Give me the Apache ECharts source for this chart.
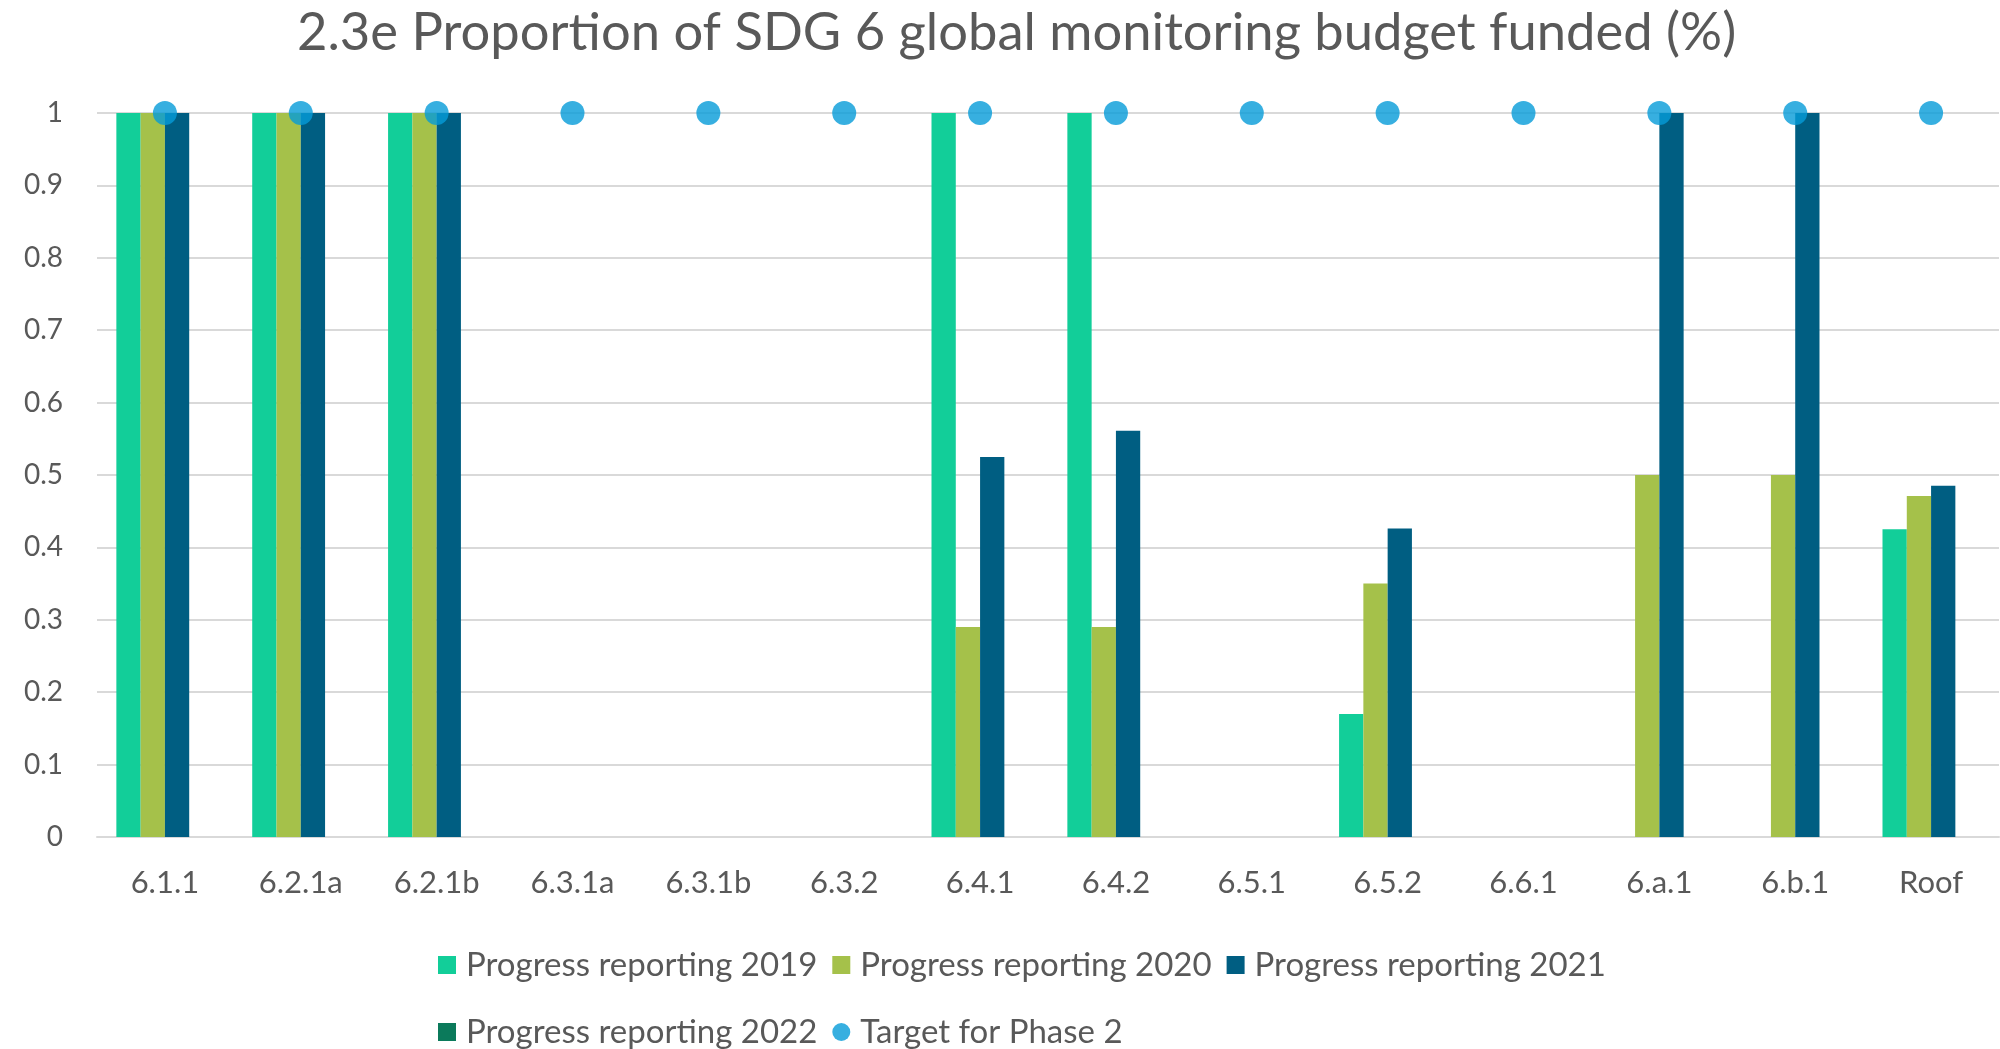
<!DOCTYPE html>
<html>
<head>
<meta charset="utf-8">
<script src="https://cdn.jsdelivr.net/npm/echarts@6/dist/echarts.min.js"></script>
<style>
html,body{margin:0;padding:0;background:#fff;}
#chart{width:2000px;height:1049px;}
</style>
</head>
<body>
<div id="chart"></div>
<script>
var categories = ['6.1.1','6.2.1a','6.2.1b','6.3.1a','6.3.1b','6.3.2','6.4.1','6.4.2','6.5.1','6.5.2','6.6.1','6.a.1','6.b.1','Roof'];
var progress2019 = [1, 1, 1, null, null, null, 1, 1, null, 0.17, null, null, null, 0.425];
var progress2020 = [1, 1, 1, null, null, null, 0.29, 0.29, null, 0.35, null, 0.5, 0.5, 0.471];
var progress2021 = [1, 1, 1, null, null, null, 0.525, 0.561, null, 0.426, null, 1, 1, 0.485];
var progress2022 = [null, null, null, null, null, null, null, null, null, null, null, null, null, null];
var targetPhase2 = [1, 1, 1, 1, 1, 1, 1, 1, 1, 1, 1, 1, 1, 1];
var yTicks = [0, 0.1, 0.2, 0.3, 0.4, 0.5, 0.6, 0.7, 0.8, 0.9, 1];

var FONT = 'Lato';
var TXT = '#595959';
var chart = echarts.init(document.getElementById('chart'));
function bar(name, data, color) {
  return {
    name: name, type: 'bar', data: data,
    barGap: '0%', barCategoryGap: '28.5%',
    itemStyle: { color: color },
    emphasis: { disabled: true }
  };
}
chart.setOption({
  animation: false,
  backgroundColor: '#ffffff',
  title: {
    text: '2.3e Proportion of SDG 6 global monitoring budget funded (%)',
    left: 292, top: 2,
    textStyle: { fontFamily: FONT, fontSize: 52.5, fontWeight: 'normal', color: TXT }
  },
  legend: {
    left: 433, top: 934, width: 1250,
    itemWidth: 18, itemHeight: 18, itemGap: 15,
    textStyle: { fontFamily: FONT, fontSize: 33, color: TXT, lineHeight: 52, padding: [0, 0, 0, 5] },
    data: [
      { name: 'Progress reporting 2019', icon: 'rect' },
      { name: 'Progress reporting 2020', icon: 'rect' },
      { name: 'Progress reporting 2021', icon: 'rect' },
      { name: 'Progress reporting 2022', icon: 'rect' },
      { name: 'Target for Phase 2', icon: 'circle' }
    ]
  },
  grid: { left: 97, right: 1, top: 113, bottom: 212 },
  xAxis: {
    type: 'category', data: categories,
    axisLine: { lineStyle: { color: '#D9D9D9', width: 2 } },
    axisTick: { show: false },
    axisLabel: { fontFamily: FONT, fontSize: 31, color: TXT, margin: 30 }
  },
  yAxis: {
    type: 'value', min: 0, max: 1, interval: 0.1,
    axisLine: { show: false }, axisTick: { show: false },
    splitLine: { lineStyle: { color: '#D9D9D9', width: 2 } },
    axisLabel: {
      fontFamily: FONT, fontSize: 28, color: TXT, margin: 34,
      formatter: function (v) { var r = Math.round(v * 10) / 10; return yTicks.indexOf(r) >= 0 ? String(r) : ''; }
    }
  },
  series: [
    bar('Progress reporting 2019', progress2019, '#12CE99'),
    bar('Progress reporting 2020', progress2020, '#A5C14A'),
    bar('Progress reporting 2021', progress2021, '#005E82'),
    bar('Progress reporting 2022', progress2022, '#0B7A5B'),
    {
      name: 'Target for Phase 2', type: 'scatter', data: targetPhase2,
      symbol: 'circle', symbolSize: 24,
      itemStyle: { color: '#059BD8' }, z: 5,
      emphasis: { disabled: true }
    }
  ]
});
</script>
</body>
</html>
